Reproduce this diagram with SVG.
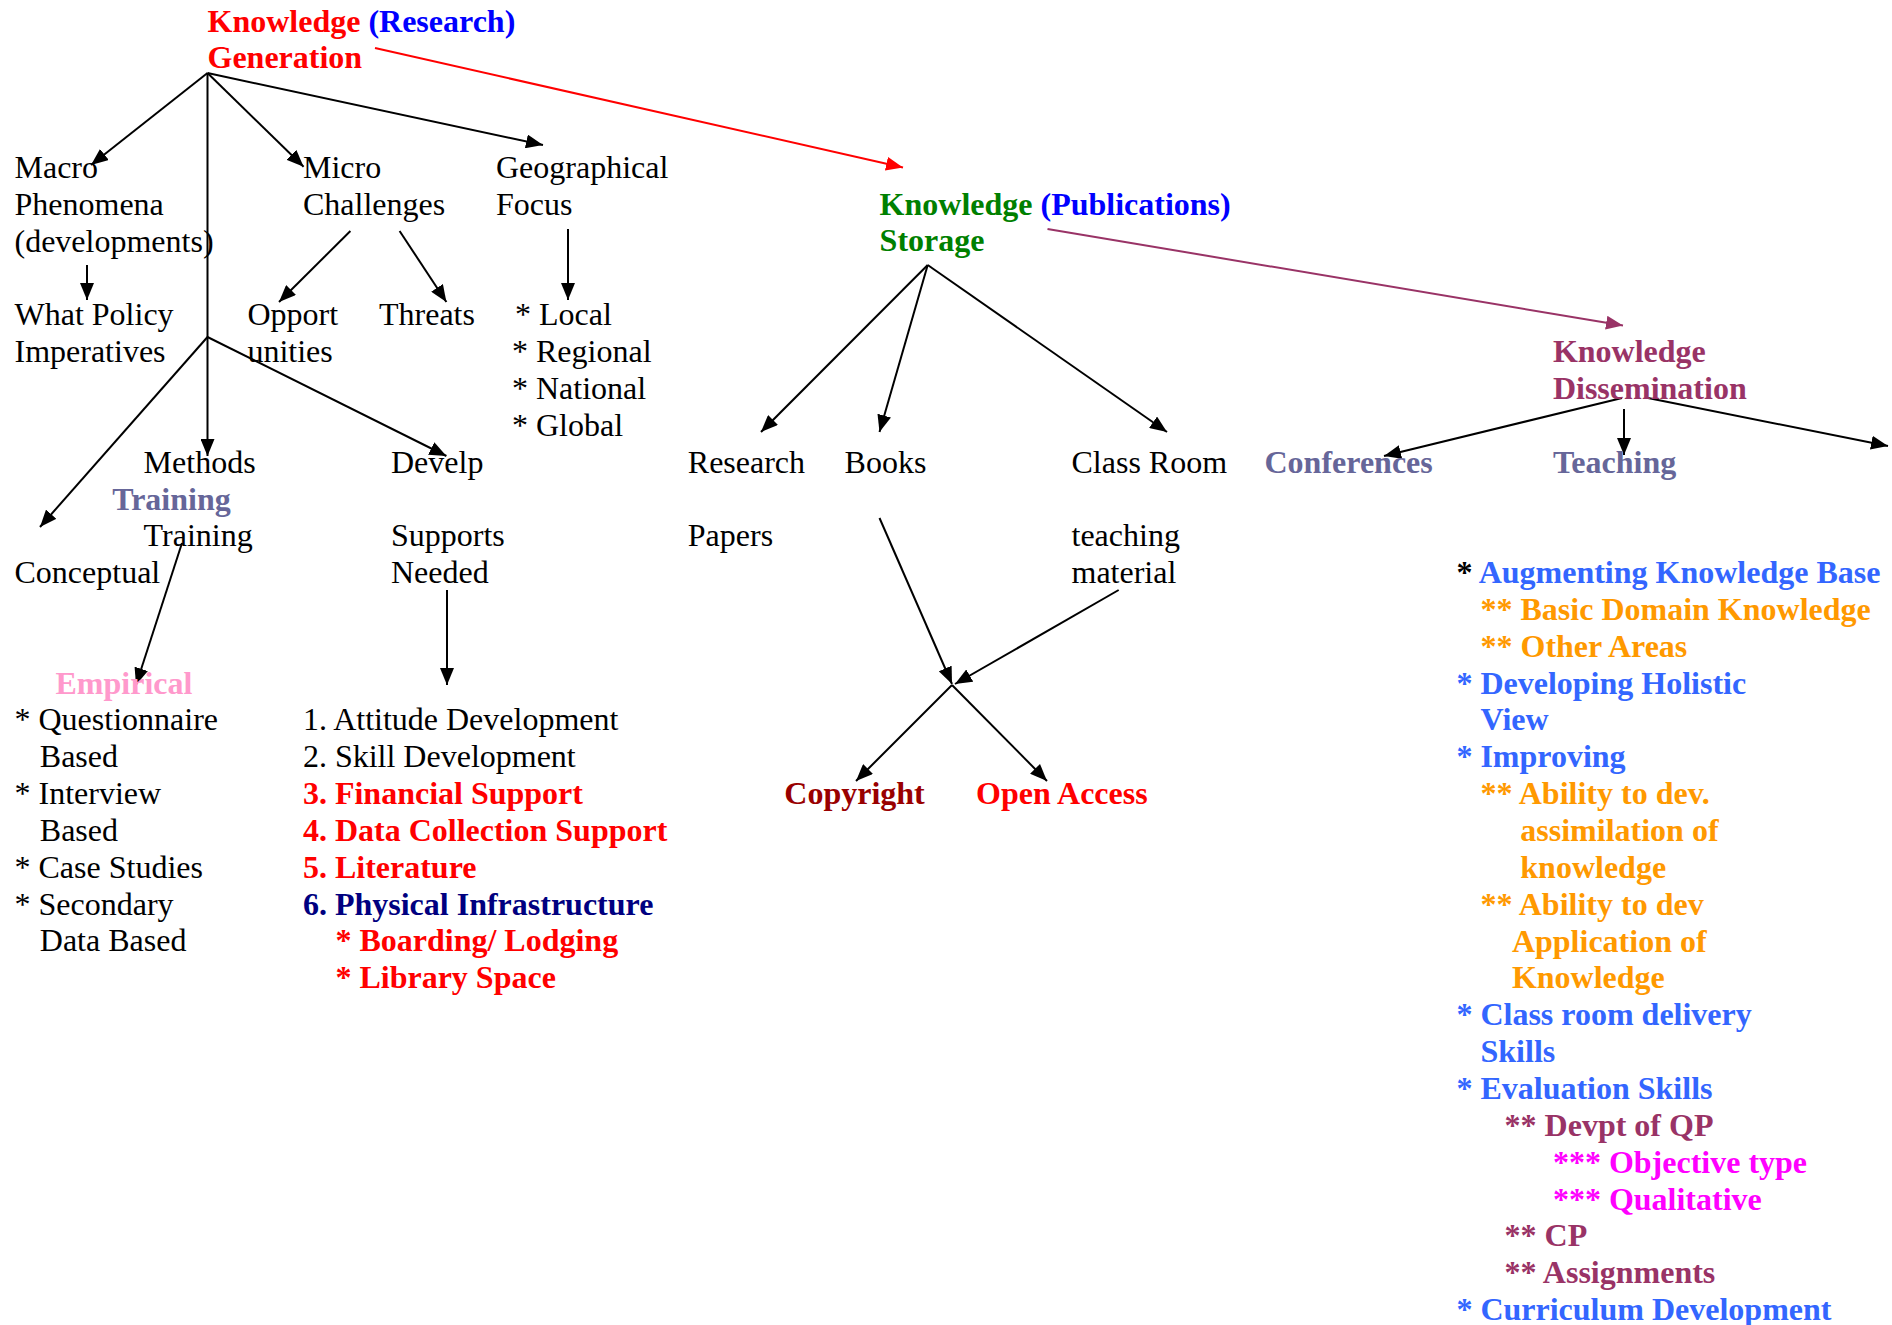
<svg xmlns="http://www.w3.org/2000/svg" width="1892" height="1325" viewBox="0 0 1892 1325">
<style>
text{font-family:"Liberation Serif","Times New Roman",serif;font-size:32px;fill:#000}
.b{font-weight:bold}
.red{fill:#FF0000}.blue{fill:#0000FF}.green{fill:#008000}.plum{fill:#993366}.slate{fill:#666699}
.pink{fill:#FF99CC}.navy{fill:#000080}.dred{fill:#990000}.orange{fill:#FF9900}.lblue{fill:#3366FF}.mag{fill:#FF00FF}.blk{fill:#000}
.c line{stroke:#000;stroke-width:2;marker-end:url(#ah)}
.c line.plain{marker-end:none}
</style>
<defs>
<marker id="ah" markerUnits="userSpaceOnUse" markerWidth="17" markerHeight="14" refX="17" refY="7" orient="auto"><path d="M0,0 L17,7 L0,14 z" fill="#000"/></marker>
<marker id="ahr" markerUnits="userSpaceOnUse" markerWidth="17" markerHeight="14" refX="17" refY="7" orient="auto"><path d="M0,0 L17,7 L0,14 z" fill="#FF0000"/></marker>
<marker id="ahp" markerUnits="userSpaceOnUse" markerWidth="17" markerHeight="14" refX="17" refY="7" orient="auto"><path d="M0,0 L17,7 L0,14 z" fill="#993366"/></marker>
</defs>
<rect width="1892" height="1325" fill="#fff"/>

<g id="connectors" class="c">
<line x1="207.5" y1="73" x2="91" y2="165"/>
<line x1="207.5" y1="73" x2="303.6" y2="166.7"/>
<line x1="207.5" y1="73" x2="543" y2="145"/>
<line x1="207.5" y1="73" x2="207.5" y2="456"/>
<line x1="207.5" y1="337" x2="40" y2="527"/>
<line x1="207.5" y1="337" x2="446.4" y2="456"/>
<line x1="87" y1="265" x2="87" y2="300"/>
<line x1="350.4" y1="231" x2="279" y2="302"/>
<line x1="399.6" y1="231" x2="446.4" y2="302"/>
<line x1="568" y1="229" x2="568" y2="300"/>
<line x1="182" y1="543" x2="136" y2="685"/>
<line x1="447" y1="590" x2="447" y2="685"/>
<line x1="375" y1="48" x2="903" y2="167.5" style="stroke:#FF0000;marker-end:url(#ahr)"/>
<line x1="927.7" y1="265" x2="761" y2="432"/>
<line x1="927.7" y1="265" x2="879.5" y2="432"/>
<line x1="927.7" y1="265" x2="1167" y2="432"/>
<line x1="879.5" y1="518" x2="952" y2="684"/>
<line x1="1118.7" y1="590" x2="955" y2="684"/>
<line x1="952" y1="685" x2="856" y2="781"/>
<line x1="952" y1="685" x2="1047" y2="781"/>
<line x1="1047.5" y1="229" x2="1623" y2="325.5" style="stroke:#993366;marker-end:url(#ahp)"/>
<line x1="1622" y1="398" x2="1384" y2="456"/>
<line x1="1624" y1="409" x2="1624" y2="455"/>
<line x1="1648" y1="398" x2="1888" y2="446"/>
</g>

<g id="knowledge-generation">
<text x="207.5" y="32" class="b red">Knowledge <tspan class="blue">(Research)</tspan></text>
<text x="207.5" y="68" class="b red">Generation</text>
</g>
<g id="macro">
<text x="14.5" y="178">Macro</text>
<text x="14.5" y="215">Phenomena</text>
<text x="14.5" y="252">(developments)</text>
</g>
<g id="policy">
<text x="14.5" y="325">What Policy</text>
<text x="14.5" y="362">Imperatives</text>
</g>
<g id="micro">
<text x="303" y="178">Micro</text>
<text x="303" y="215">Challenges</text>
</g>
<g id="geographical">
<text x="496" y="178">Geographical</text>
<text x="496" y="215">Focus</text>
</g>
<g id="opportunities">
<text x="247.4" y="325">Opport</text>
<text x="247.4" y="362">unities</text>
</g>
<g id="threats">
<text x="379" y="325">Threats</text>
</g>
<g id="geo-list">
<text x="515" y="325">* Local</text>
<text x="512" y="362">* Regional</text>
<text x="512" y="399">* National</text>
<text x="512" y="436">* Global</text>
</g>
<g id="methods">
<text x="143.6" y="473">Methods</text>
<text x="112.2" y="509.5" class="b slate">Training</text>
<text x="143.6" y="546">Training</text>
</g>
<g id="conceptual">
<text x="14.5" y="583">Conceptual</text>
</g>
<g id="develp">
<text x="391" y="473">Develp</text>
<text x="391" y="546">Supports</text>
<text x="391" y="583">Needed</text>
</g>
<g id="empirical">
<text x="55.5" y="694" class="b pink">Empirical</text>
<text x="14.5" y="730">* Questionnaire</text>
<text x="39.8" y="767">Based</text>
<text x="14.5" y="804">* Interview</text>
<text x="39.8" y="841">Based</text>
<text x="14.5" y="877.5">* Case Studies</text>
<text x="14.5" y="914.5">* Secondary</text>
<text x="39.8" y="951">Data Based</text>
</g>
<g id="supports-list">
<text x="302.9" y="730">1. Attitude Development</text>
<text x="302.9" y="767">2. Skill Development</text>
<text x="302.9" y="804" class="b red">3. Financial Support</text>
<text x="302.9" y="841" class="b red">4. Data Collection Support</text>
<text x="302.9" y="877.5" class="b red">5. Literature</text>
<text x="302.9" y="914.5" class="b navy">6. Physical Infrastructure</text>
<text x="335.4" y="951" class="b red">* Boarding/ Lodging</text>
<text x="335.4" y="988" class="b red">* Library Space</text>
</g>

<g id="knowledge-storage">
<text x="879.6" y="215" class="b green">Knowledge <tspan class="blue">(Publications)</tspan></text>
<text x="879.6" y="251" class="b green">Storage</text>
</g>
<g id="research-papers">
<text x="687.8" y="473">Research</text>
<text x="687.8" y="546">Papers</text>
</g>
<g id="books">
<text x="844.6" y="473">Books</text>
</g>
<g id="class-room">
<text x="1071.5" y="473">Class Room</text>
<text x="1071.5" y="546">teaching</text>
<text x="1071.5" y="583">material</text>
</g>
<g id="copyright">
<text x="784.3" y="804" class="b dred">Copyright</text>
</g>
<g id="open-access">
<text x="976.1" y="804" class="b red">Open Access</text>
</g>

<g id="knowledge-dissemination">
<text x="1552.9" y="362" class="b plum">Knowledge</text>
<text x="1552.9" y="398.5" class="b plum">Dissemination</text>
</g>
<g id="conferences">
<text x="1264.5" y="473" class="b slate">Conferences</text>
</g>
<g id="teaching">
<text x="1552.9" y="473" class="b slate">Teaching</text>
</g>
<g id="teaching-list" class="b">
<text x="1456.4" y="583" class="b blk">* <tspan class="lblue">Augmenting Knowledge Base</tspan></text>
<text x="1480.5" y="620" class="b orange">** Basic Domain Knowledge</text>
<text x="1480.5" y="656.7" class="b orange">** Other Areas</text>
<text x="1456.4" y="693.6" class="b lblue">* Developing Holistic</text>
<text x="1480.5" y="730.4" class="b lblue">View</text>
<text x="1456.4" y="767.3" class="b lblue">* Improving</text>
<text x="1480.5" y="804.1" class="b orange">** Ability to dev.</text>
<text x="1520.3" y="841" class="b orange">assimilation of</text>
<text x="1520.3" y="877.8" class="b orange">knowledge</text>
<text x="1480.5" y="914.7" class="b orange">** Ability to dev</text>
<text x="1511.9" y="951.5" class="b orange">Application of</text>
<text x="1511.9" y="988.4" class="b orange">Knowledge</text>
<text x="1456.4" y="1025.2" class="b lblue">* Class room delivery</text>
<text x="1480.5" y="1062.1" class="b lblue">Skills</text>
<text x="1456.4" y="1098.9" class="b lblue">* Evaluation Skills</text>
<text x="1504.6" y="1135.8" class="b plum">** Devpt of QP</text>
<text x="1552.9" y="1172.6" class="b mag">*** Objective type</text>
<text x="1552.9" y="1209.5" class="b mag">*** Qualitative</text>
<text x="1504.6" y="1246.3" class="b plum">** CP</text>
<text x="1504.6" y="1283.2" class="b plum">** Assignments</text>
<text x="1456.4" y="1320" class="b lblue">* Curriculum Development</text>
</g>
</svg>
